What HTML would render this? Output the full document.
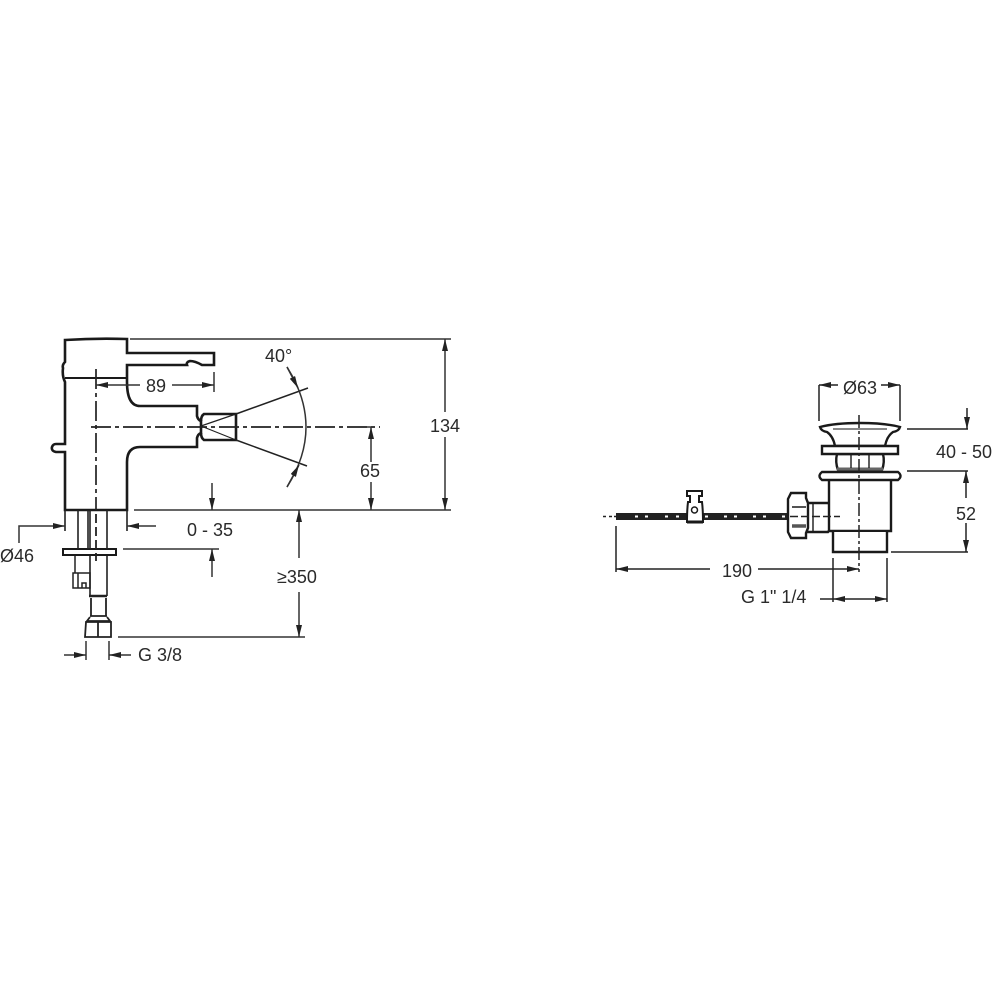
<!DOCTYPE html>
<html><head><meta charset="utf-8"><style>html,body{margin:0;padding:0;background:#fff}svg{display:block;filter:blur(.35px)}text{font-family:"Liberation Sans",sans-serif;font-size:18px;fill:#2a2a2a}</style></head><body>
<svg width="1000" height="1000" viewBox="0 0 1000 1000" xmlns="http://www.w3.org/2000/svg">
<defs><marker id="a" markerWidth="12" markerHeight="6" refX="12" refY="3" orient="auto-start-reverse" markerUnits="userSpaceOnUse"><path d="M0 0L12 3L0 6z" fill="#222"/></marker></defs>
<g fill="none" stroke="#1a1a1a" stroke-width="2.6">
<path d="M65 340Q96 338 127 339V353H214V365H202Q195 361 190 361Q186 362 187 365H127V382Q127 406 140 406H197V416Q198 420 201 421V433Q198 434 197 438V447H140Q127 447 127 462V510H65V452H56Q51 451 52 447Q53 444 56 444H65V382Q62 376 63 368Q62 365 65 362Z"/>
<path d="M65 378H127" stroke-width="2"/>
<path d="M201 421Q201 416 204 414H236V440H204Q201 438 201 433"/>
<path d="M63 549H116V555H63Z" stroke-width="2"/>
</g>
<g fill="none" stroke="#222" stroke-width="1.6">
<path d="M65 510V531M78 510V549M88 510V549M90 510V549M107 510V549M127 510V531"/>
<path d="M75 556V573H90M73 573H90V588H73ZM78 588V573M82 588V583H86V588" stroke-width="1.5"/>
<path d="M90 556V596M107 556V596"/>
<path d="M89 596H107" stroke-width="2.6"/>
<path d="M91 598V616M106 598V616M90 616H107" stroke-width="1.8"/>
<path d="M90 617L87 621H110L107 617" stroke-width="1.8"/>
<path d="M86 622H111V637H85ZM98 622V637" stroke-width="1.8"/>
<path d="M201 426L236 414M201 426L236 440" stroke-width="1.2"/>
<path d="M236 414L308 388M236 440L307 466" stroke-width="1.5"/>
</g>
<g fill="none" stroke="#222" stroke-width="1.7" stroke-dasharray="20 4 4 4">
<path d="M96 369V510"/>
<path d="M91 427H380"/>
</g>
<path d="M96 514V561" fill="none" stroke="#222" stroke-width="1.8" stroke-dasharray="9 4"/>
<g fill="none" stroke="#333" stroke-width="1.5">
<path d="M130 339H451M134 510H451M118 637H305M123 549H219"/>
<path d="M214 372V392"/>
<path d="M140 385H96" marker-end="url(#a)"/>
<path d="M172 385H214" marker-end="url(#a)"/>
<path d="M445 412V339" marker-end="url(#a)"/><path d="M445 437V510" marker-end="url(#a)"/>
<path d="M371 462V427" marker-end="url(#a)"/>
<path d="M371 482V510" marker-end="url(#a)"/>
<path d="M358 427H371"/>
<path d="M212 483V510" marker-end="url(#a)"/>
<path d="M212 577V549" marker-end="url(#a)"/>
<path d="M299 558V510" marker-end="url(#a)"/>
<path d="M299 592V637" marker-end="url(#a)"/>
<path d="M19 543V526H65" marker-end="url(#a)"/>
<path d="M156 526H127" marker-end="url(#a)"/>
<path d="M86 641V660M109 641V660"/>
<path d="M64 655H86" marker-end="url(#a)"/>
<path d="M131 655H109" marker-end="url(#a)"/>
<path d="M287 367Q325 427 287 487"/>
<path d="M287 367L298 388" marker-end="url(#a)"/>
<path d="M287 487L299 465" marker-end="url(#a)"/>
</g>
<text x="146" y="392">89</text>
<text x="265" y="362">40°</text>
<text x="430" y="432">134</text>
<text x="360" y="477">65</text>
<text x="187" y="536">0 - 35</text>
<text x="0" y="562">Ø46</text>
<text x="277" y="583">≥350</text>
<text x="138" y="661">G 3/8</text>
<text x="843" y="394">Ø63</text>
<text x="936" y="458">40 - 50</text>
<text x="956" y="520">52</text>
<text x="722" y="577">190</text>
<text x="741" y="603">G 1" 1/4</text>
<!-- rod -->
<path d="M616 516.5H788" stroke="#222" stroke-width="7"/>
<path d="M635 516.5h3M645 516.5h3M665 516.5h3M676 516.5h3M705 516.5h3M724 516.5h3M734 516.5h3M753 516.5h3M763 516.5h3M782 516.5h3" stroke="#fff" stroke-width="2"/>
<!-- drain -->
<g fill="#fff" stroke="#1a1a1a" stroke-width="2.4">
<path d="M687 491H702V496H699V502H702Q703 510 703 522H687Q687 510 688 502H690V496H687Z" stroke-width="2"/>
<circle cx="694.500" cy="510" r="3" stroke-width="1.5"/>
<path d="M687 522H703" stroke-width="3"/>
<path d="M828 503H807V532H828Q833 526 832 516Q833 507 828 503Z"/>
<path d="M791 493H806V498L808 503V528L806 533V538H791L788 532V499Z"/>
<path d="M813 503V532M792 507H806" fill="none" stroke-width="1.4"/>
<path d="M792 526H806" fill="none" stroke="#555" stroke-width="3.5"/>
<path d="M829 480V531H891V480" />
<path d="M833 532V552H887V532"/>
<path d="M837 454Q835 462 838 470H882Q885 462 883 454Z"/>
<path d="M837 469H883" stroke="#666" stroke-width="3"/>
<path d="M851 454V468M869 454V468" fill="none" stroke-width="1.4"/>
<path d="M822 472H898Q903 476 898 480H822Q817 476 822 472Z"/>
<path d="M820 427Q835 423 860 423Q885 423 900 427Q899 431 893 432Q887 436 885 446H835Q833 436 827 432Q821 431 820 427Z"/>
<path d="M833 429H887" fill="none" stroke="#888" stroke-width="2"/>
<path d="M822 446H898V454H822Z"/>
</g>
<g fill="none" stroke="#222" stroke-width="1.5">
<path d="M859 415V572" stroke-dasharray="13 3 3 3"/>
<path d="M603 516.500H617" stroke-dasharray="3 3 3 2"/>
<path d="M790 516.500H840" stroke-dasharray="8 3"/>
<path d="M819 421V385M900 421V385"/>
<path d="M838 385H819" marker-end="url(#a)"/>
<path d="M881 385H900" marker-end="url(#a)"/>
<path d="M907 429H968M907 471H968M891 552H968"/>
<path d="M967 408V429" marker-end="url(#a)"/>
<path d="M966 498V471" marker-end="url(#a)"/>
<path d="M966 523V552" marker-end="url(#a)"/>
<path d="M616 526V572M833 558V602M887 558V602"/>
<path d="M710 569H616" marker-end="url(#a)"/>
<path d="M758 569H859" marker-end="url(#a)"/>
<path d="M820 599H833"/>
<path d="M860 599H833" marker-end="url(#a)"/>
<path d="M860 599H887" marker-end="url(#a)"/>
</g>
</svg>
</body></html>
